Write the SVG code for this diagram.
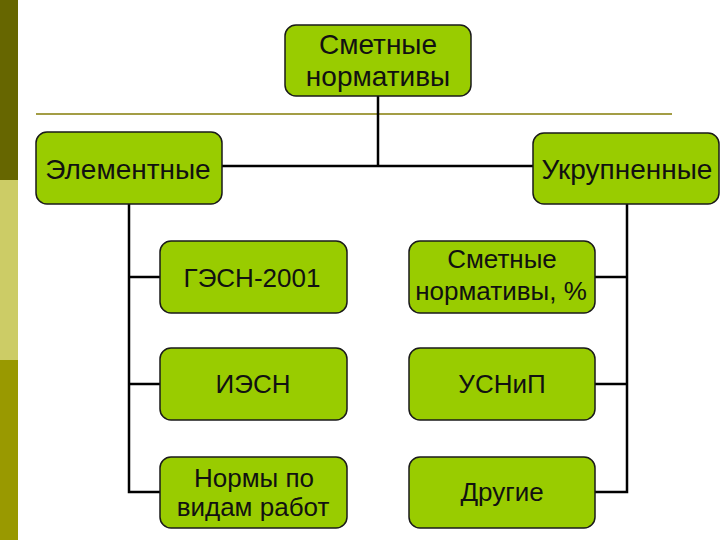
<svg xmlns="http://www.w3.org/2000/svg" width="720" height="540" viewBox="0 0 720 540">
<style>
.box{fill:#99cc00;stroke:#1a1a1a;stroke-width:1.5}
.t{font-family:"Liberation Sans",Arial,sans-serif;font-size:26px;fill:#111;text-anchor:middle}
.big{font-size:28px}
.c{stroke:#000;stroke-width:2.5;fill:none}
</style>
<rect x="0" y="0" width="720" height="540" fill="#fff"/>
<g id="sidebar">
<rect x="0" y="0" width="18" height="180" fill="#666600"/>
<rect x="0" y="180" width="18" height="180" fill="#cccc66"/>
<rect x="0" y="360" width="18" height="180" fill="#999900"/>
</g>
<line id="separator" x1="36" y1="114" x2="672" y2="114" stroke="#a39d45" stroke-width="2"/>
<g id="connectors">
<polyline class="c" points="378,96 378,166"/>
<polyline class="c" points="222,166 533,166"/>
<polyline class="c" points="129,204 129,492 160,492"/>
<polyline class="c" points="129,277 160,277"/>
<polyline class="c" points="129,384 160,384"/>
<polyline class="c" points="627,204 627,492 595,492"/>
<polyline class="c" points="627,277 595,277"/>
<polyline class="c" points="627,384 595,384"/>
</g>
<g id="n-root">
<rect class="box" x="285" y="25" width="186" height="71" rx="11"/>
<text class="t big" x="378" y="54">Сметные</text>
<text class="t big" x="378" y="86">нормативы</text>
</g>
<g id="n-elem">
<rect class="box" x="36" y="132" width="186" height="72" rx="11"/>
<text class="t big" x="128" y="179">Элементные</text>
</g>
<g id="n-ukr">
<rect class="box" x="533" y="133" width="186" height="71" rx="11"/>
<text class="t big" x="627" y="179">Укрупненные</text>
</g>
<g id="n-gesn">
<rect class="box" x="160" y="241" width="187" height="72" rx="11"/>
<text class="t" x="252" y="287">ГЭСН-2001</text>
</g>
<g id="n-iesn">
<rect class="box" x="160" y="348" width="187" height="72" rx="11"/>
<text class="t" x="253" y="393">ИЭСН</text>
</g>
<g id="n-normy">
<rect class="box" x="160" y="457" width="187" height="71" rx="11"/>
<text class="t" x="254" y="487">Нормы по</text>
<text class="t" x="253" y="516">видам работ</text>
</g>
<g id="n-smet">
<rect class="box" x="409" y="241" width="186" height="72" rx="11"/>
<text class="t" x="502" y="268">Сметные</text>
<text class="t" x="501" y="300">нормативы, %</text>
</g>
<g id="n-usnip">
<rect class="box" x="409" y="348" width="186" height="72" rx="11"/>
<text class="t" x="502" y="393">УСНиП</text>
</g>
<g id="n-drugie">
<rect class="box" x="409" y="457" width="186" height="71" rx="11"/>
<text class="t" x="502" y="501">Другие</text>
</g>
</svg>
